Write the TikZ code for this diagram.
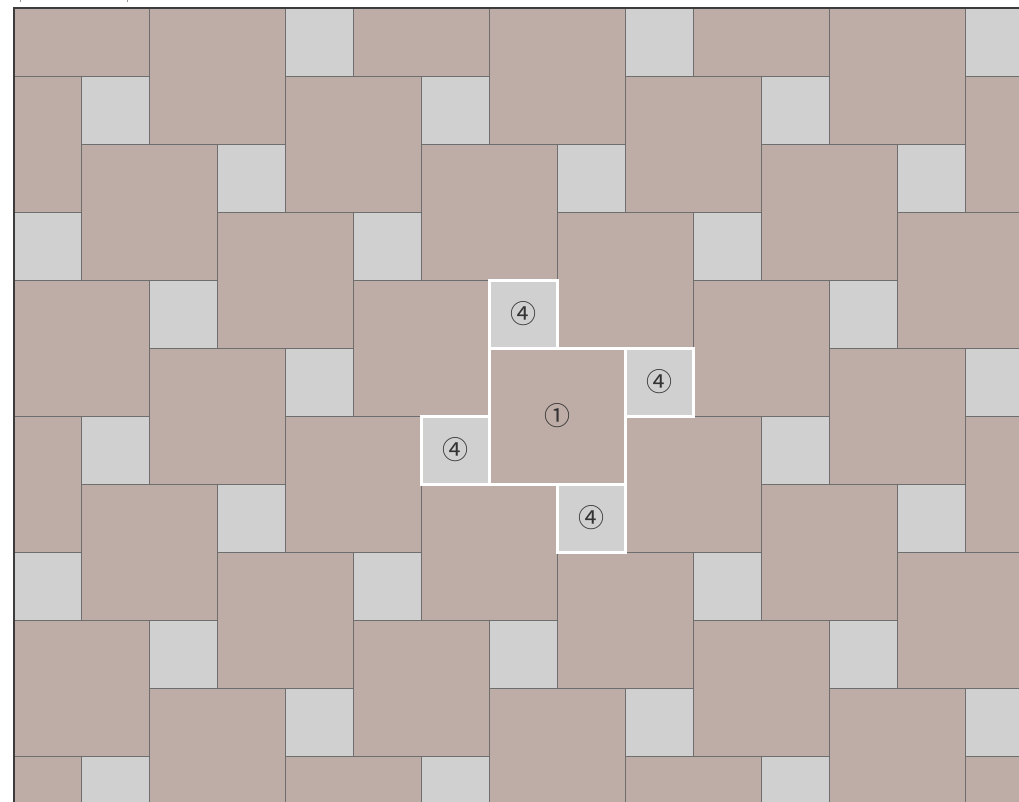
\documentclass[tikz,border=0pt]{standalone}
\usepackage{fontspec}
\newfontfamily\circfont{Noto Sans CJK JP}
\definecolor{tilebig}{HTML}{BDADA6}
\definecolor{tilesmall}{HTML}{D0D0D0}
\definecolor{joint}{HTML}{6E6E6E}
\definecolor{frame}{HTML}{3C3C3C}
\definecolor{labeltext}{HTML}{333333}
\tikzset{
  bigtile/.style={fill=tilebig, draw=joint, line width=0.9pt},
  smalltile/.style={fill=tilesmall, draw=joint, line width=0.9pt},
  hilite/.style={draw=white, line width=3pt},
  lbl/.style={font=\circfont\fontsize{26}{26}\selectfont, text=labeltext, inner sep=0pt}
}
\begin{document}
\begin{tikzpicture}[x=1pt,y=-1pt]
\useasboundingbox (0,0) rectangle (1019,802);
\fill[white] (0,0) rectangle (1019,802);
\draw[joint!70, line width=0.8pt] (20,0) -- (20,2);
\draw[joint!70, line width=0.8pt] (127,0) -- (127,2);
\begin{scope}
\clip (14,8) rectangle (1019,802);
\foreach \i in {-7,...,7} {
  \foreach \j in {-7,...,7} {
    \pgfmathsetmacro\X{489+136*\i-68*\j}
    \pgfmathsetmacro\Y{348+68*\i+136*\j}
    \draw[bigtile] (\X,\Y) rectangle ++(136,136);
    \draw[smalltile] (\X,\Y-68) rectangle ++(68,68);
  }
}
\end{scope}
\draw[frame, line width=1.4pt] (14,802) -- (14,8) -- (1019,8);
% highlighted pinwheel unit
\draw[hilite] (489,348) rectangle (625,484);
\draw[hilite] (489,280) rectangle (557,348);
\draw[hilite] (625,348) rectangle (693,416);
\draw[hilite] (421,416) rectangle (489,484);
\draw[hilite] (557,484) rectangle (625,552);
\node[lbl] (c1) at (557,416) {①};
\node[lbl] (s1) at (523,314) {④};
\node[lbl] (s2) at (659,382) {④};
\node[lbl] (s3) at (455,450) {④};
\node[lbl] (s4) at (591,518) {④};
\end{tikzpicture}
\end{document}
